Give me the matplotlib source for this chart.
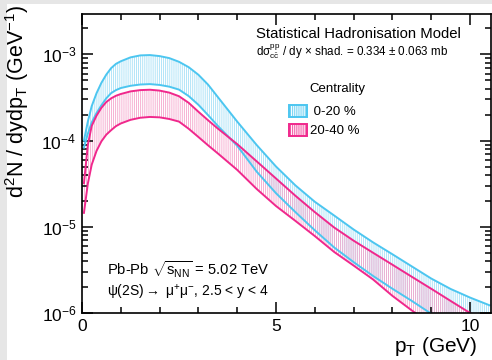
import matplotlib
matplotlib.use("Agg")
import matplotlib.pyplot as plt
from matplotlib.patches import Patch, Rectangle
from matplotlib.ticker import LogLocator, MultipleLocator

plt.rcParams["font.family"] = ["Liberation Sans", "DejaVu Sans"]
plt.rcParams["mathtext.fontset"] = "custom"
plt.rcParams["mathtext.rm"] = "Liberation Sans"
plt.rcParams["mathtext.it"] = "Liberation Sans"
plt.rcParams["mathtext.default"] = "regular"
plt.rcParams["hatch.linewidth"] = 0.6

# transverse momentum grid (GeV)
pt = [0.05, 0.15, 0.25, 0.375, 0.5, 0.625, 0.75, 0.875, 1.0, 1.25, 1.5, 1.75,
      2.0, 2.25, 2.5, 2.75, 3.0, 3.25, 3.5, 4.0, 4.5, 5.0, 5.5, 6.0, 6.5, 7.0,
      7.5, 8.0, 8.5, 9.0, 9.5, 10.0, 10.5]

# 0-20 % centrality band
c020_hi = [1.0e-4, 1.66e-4, 2.51e-4, 3.55e-4, 4.68e-4, 5.82e-4, 6.92e-4, 7.76e-4,
           8.32e-4, 9.23e-4, 9.73e-4, 9.82e-4, 9.55e-4, 9.05e-4, 8.2e-4, 7.1e-4,
           5.8e-4, 4.45e-4, 3.2e-4, 1.66e-4, 8.9e-5, 5.0e-5, 3.02e-5, 1.95e-5,
           1.35e-5, 9.3e-6, 6.6e-6, 4.8e-6, 3.47e-6, 2.51e-6, 1.9e-6, 1.51e-6,
           1.23e-6]
c020_lo = [8.3e-5, 1.2e-4, 1.62e-4, 2.09e-4, 2.57e-4, 3.09e-4, 3.55e-4, 3.85e-4,
           4.07e-4, 4.32e-4, 4.47e-4, 4.52e-4, 4.42e-4, 4.22e-4, 3.9e-4, 3.28e-4,
           2.6e-4, 1.97e-4, 1.48e-4, 8.7e-5, 4.37e-5, 2.45e-5, 1.48e-5, 9.1e-6,
           5.75e-6, 3.89e-6, 2.69e-6, 1.91e-6, 1.38e-6, 9.8e-7, 7.1e-7, 5.2e-7,
           4.0e-7]

# 20-40 % centrality band
c2040_hi = [3.2e-5, 8.9e-5, 1.48e-4, 1.95e-4, 2.4e-4, 2.8e-4, 3.09e-4, 3.31e-4,
            3.47e-4, 3.72e-4, 3.85e-4, 3.89e-4, 3.8e-4, 3.6e-4, 3.27e-4, 2.74e-4,
            2.16e-4, 1.72e-4, 1.38e-4, 9.1e-5, 5.75e-5, 3.63e-5, 2.29e-5, 1.48e-5,
            9.8e-6, 6.9e-6, 5.0e-6, 3.63e-6, 2.63e-6, 1.91e-6, 1.38e-6, 1.0e-6,
            7.4e-7]
c2040_lo = [1.45e-5, 3.16e-5, 5.25e-5, 7.6e-5, 9.8e-5, 1.17e-4, 1.32e-4, 1.47e-4,
            1.58e-4, 1.74e-4, 1.84e-4, 1.88e-4, 1.86e-4, 1.78e-4, 1.66e-4, 1.37e-4,
            1.1e-4, 8.8e-5, 7.1e-5, 4.57e-5, 2.75e-5, 1.74e-5, 1.17e-5, 7.8e-6,
            5.1e-6, 3.55e-6, 2.45e-6, 1.58e-6, 1.07e-6, 7.4e-7, 5.2e-7, 3.8e-7,
            2.8e-7]

cyan = "#4cc6f0"
pink = "#f0288c"
cyan_h = "#a6e0f7"
pink_h = "#f5a6cc"
hatch = "|" * 8

fig = plt.figure(figsize=(4.92, 3.6), dpi=100)
fig.patch.set_facecolor("#e6e6e6")
fig.patches.append(Rectangle((7 / 492, 0), 1, 356 / 360, transform=fig.transFigure,
                             facecolor="white", edgecolor="none", zorder=-10))

ax = fig.add_axes([82 / 492, 47 / 360, 409 / 492, 299 / 360])
ax.set_facecolor("none")

ax.fill_between(pt, c020_lo, c020_hi, facecolor="none", edgecolor=cyan_h,
                hatch=hatch, linewidth=0)
ax.fill_between(pt, c2040_lo, c2040_hi, facecolor="none", edgecolor=pink_h,
                hatch=hatch, linewidth=0)
for y, c in [(c020_hi, cyan), (c020_lo, cyan), (c2040_hi, pink), (c2040_lo, pink)]:
    ax.plot(pt, y, color=c, lw=1.4)

ax.set_yscale("log")
ax.set_xlim(0, 10.54)
ax.set_ylim(1e-6, 2.94e-3)
ax.xaxis.set_major_locator(MultipleLocator(5))
ax.xaxis.set_minor_locator(MultipleLocator(1))
ax.yaxis.set_major_locator(LogLocator(base=10))
ax.yaxis.set_minor_locator(LogLocator(base=10, subs=range(2, 10)))
ax.tick_params(which="both", direction="in", top=True, right=True, width=1.1,
               labelsize=12.5)
ax.tick_params(which="major", length=8, pad=4)
ax.tick_params(which="minor", length=4.5)
for s in ax.spines.values():
    s.set_linewidth(1.2)

ax.set_ylabel("d$^{2}$N / dydp$_{T}$ (GeV$^{-1}$)", fontsize=15.5, loc="top")
ax.yaxis.set_label_coords(-0.125, 1.03)
ax.set_xlabel("p$_{T}$ (GeV)", fontsize=15, loc="right")
ax.xaxis.set_label_coords(0.966, -0.074)

ax.text(0.425, 0.933, "Statistical Hadronisation Model", transform=ax.transAxes,
        fontsize=10.7, va="center")
ax.text(0.425, 0.873,
        r"d$\sigma^{pp}_{c\bar{c}}$ / dy $\times$ shad. = 0.334 $\pm$ 0.063 mb",
        transform=ax.transAxes, fontsize=8.4, va="center")
ax.text(0.061, 0.144, r"Pb-Pb $\sqrt{s_{NN}}$ = 5.02 TeV", transform=ax.transAxes,
        fontsize=10.6, va="center")
ax.text(0.061, 0.067, r"$\psi$(2S)$\rightarrow$ $\mu^{+}\mu^{-}$, 2.5 < y < 4",
        transform=ax.transAxes, fontsize=10, va="center")

ax.text(0.557, 0.749, "Centrality", transform=ax.transAxes, fontsize=9.5,
        va="center")
handles = [Patch(facecolor="none", edgecolor=cyan, hatch=hatch, lw=1.4),
           Patch(facecolor="none", edgecolor=pink, hatch=hatch, lw=1.4)]
leg = ax.legend(handles, [" 0-20 %", "20-40 %"], loc="upper left",
                bbox_to_anchor=(0.478, 0.737), frameon=False, fontsize=9.5,
                handlelength=1.3, handleheight=1.05, handletextpad=0.3,
                labelspacing=0.42)

fig.savefig("out.png", dpi=100)
